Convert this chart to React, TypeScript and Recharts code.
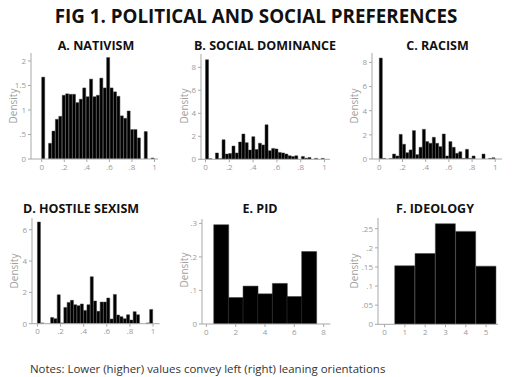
import { Bar, BarChart, XAxis, YAxis } from 'recharts';

// densities, one value per histogram bin
const NATIVISM = [
  1.67, 0, 0.32, 0.57, 0.81, 0.87, 1.3, 1.33, 1.32, 1.32, 1.15, 1.22, 1.45, 1.27, 1.63, 1.27, 1.3,
  1.65, 1.45, 2.07, 1.45, 1.37, 1.28, 0.88, 0.83, 0.98, 0.6, 0.6, 0.43, 0, 0.56, 0, 0.02,
];
const SOCIAL_DOMINANCE = [
  8.66, 0.05, 0, 0.55, 0.05, 1.7, 0.45, 0.5, 1.15, 0.55, 1.5, 2.2, 1.45, 0.8, 1.97, 0.85, 1.4, 1.25,
  3.0, 0.75, 0.95, 0.9, 0.6, 0.55, 0.45, 0.3, 0.25, 0.3, 0, 0.25, 0.1, 0.15, 0, 0.08, 0, 0.08,
];
const RACISM = [
  8.36, 0.05, 0, 0.03, 0.41, 0.25, 2.04, 1.22, 0.52, 0.75, 2.35, 0.36, 0.97, 2.46, 1.44, 1.3, 1.8,
  1.3, 1.02, 2.07, 0.25, 1.44, 0.97, 0.47, 0.6, 0.05, 0.8, 0.05, 0.25, 0, 0, 0.41, 0, 0.05, 0.1,
];
const HOSTILE_SEXISM = [
  6.49, 0.05, 0, 0, 0.4, 0.32, 1.85, 0.05, 1.04, 1.36, 1.49, 1.21, 1.15, 1.26, 0.85, 1.21, 3.0, 1.45,
  0.79, 1.38, 1.38, 1.64, 0.3, 1.87, 0.55, 0.45, 0.32, 0.57, 0.23, 0.77, 0.57, 0, 0, 0.05, 0.91,
];
const PID = [0.296, 0.079, 0.113, 0.09, 0.121, 0.082, 0.216];
const IDEOLOGY = [0.153, 0.185, 0.263, 0.243, 0.152];

const UNIT_TICKS = [0, 0.2, 0.4, 0.6, 0.8, 1];
const PID_X_TICKS = [0, 2, 4, 6, 8];
const IDEOLOGY_X_TICKS = [0, 1, 2, 3, 4, 5];
const NATIVISM_Y_TICKS = [0, 0.5, 1, 1.5, 2];
const WIDE_Y_TICKS = [0, 2, 4, 6, 8];
const SEXISM_Y_TICKS = [0, 2, 4, 6];
const PID_Y_TICKS = [0, 0.1, 0.2, 0.3];
const IDEOLOGY_Y_TICKS = [0, 0.05, 0.1, 0.15, 0.2, 0.25];

const Y_AXIS_W = 24;
const X_AXIS_H = 16;
const TOP_PAD = 6;
const AXIS_GREY = '#a8a8a8';
const FONT = '"Open Sans", "DejaVu Sans", sans-serif';

interface PanelSpec {
  title: string;
  values: number[];
  binStart: number;
  binWidth: number;
  xTicks: number[];
  yTicks: number[];
  xDomain: [number, number];
  yMax: number;
  axisX: number;
  top: number;
  right: number;
  bottom: number;
  titleX: number;
  titleY: number;
  labelX: number;
  labelY: number;
}

const PANELS: PanelSpec[] = [
  {
    title: 'A. NATIVISM', values: NATIVISM, binStart: 0, binWidth: 1 / NATIVISM.length,
    xTicks: UNIT_TICKS, yTicks: NATIVISM_Y_TICKS, xDomain: [-0.095, 1.031], yMax: 2.163,
    axisX: 31, top: 53, right: 158, bottom: 159, titleX: 96, titleY: 45, labelX: 13, labelY: 106,
  },
  {
    title: 'B. SOCIAL DOMINANCE', values: SOCIAL_DOMINANCE, binStart: 0,
    binWidth: 1 / SOCIAL_DOMINANCE.length, xTicks: UNIT_TICKS, yTicks: WIDE_Y_TICKS,
    xDomain: [-0.038, 1.05], yMax: 9.16,
    axisX: 200.5, top: 54, right: 330, bottom: 159.3, titleX: 265, titleY: 45, labelX: 184, labelY: 106,
  },
  {
    title: 'C. RACISM', values: RACISM, binStart: 0, binWidth: 1 / RACISM.length,
    xTicks: UNIT_TICKS, yTicks: WIDE_Y_TICKS, xDomain: [-0.063, 1.058], yMax: 8.78,
    axisX: 371.7, top: 53.3, right: 501.7, bottom: 159.3, titleX: 437.5, titleY: 45, labelX: 353.5, labelY: 106,
  },
  {
    title: 'D. HOSTILE SEXISM', values: HOSTILE_SEXISM, binStart: 0,
    binWidth: 1 / HOSTILE_SEXISM.length, xTicks: UNIT_TICKS, yTicks: SEXISM_Y_TICKS,
    xDomain: [-0.047, 1.058], yMax: 6.75,
    axisX: 32.3, top: 218.3, right: 160, bottom: 324, titleX: 81, titleY: 208, labelX: 13.5, labelY: 271,
  },
  {
    title: 'E. PID', values: PID, binStart: 0.5, binWidth: 1, xTicks: PID_X_TICKS, yTicks: PID_Y_TICKS,
    xDomain: [-0.3, 8.46], yMax: 0.313,
    axisX: 202.3, top: 219, right: 330.7, bottom: 324, titleX: 260, titleY: 208, labelX: 184, labelY: 270,
  },
  {
    title: 'F. IDEOLOGY', values: IDEOLOGY, binStart: 0.5, binWidth: 1, xTicks: IDEOLOGY_X_TICKS,
    yTicks: IDEOLOGY_Y_TICKS, xDomain: [-0.325, 5.6], yMax: 0.278,
    axisX: 377.7, top: 217.7, right: 498, bottom: 324, titleX: 435, titleY: 208, labelX: 353.5, labelY: 271,
  },
];

// Stata style: drop the leading zero (".5", ".25")
const formatTick = (v: number) => (v === 0 ? '0' : String(v).replace(/^0\./, '.'));

function Panel({ spec }: { spec: PanelSpec }) {
  const data = spec.values.map((density, i) => ({
    bin: i,
    mid: spec.binStart + spec.binWidth * (i + 0.5),
    density,
  }));
  const left = spec.axisX - Y_AXIS_W;
  const width = spec.right - left;
  const height = spec.bottom - spec.top + X_AXIS_H + TOP_PAD;
  const plotW = spec.right - spec.axisX;
  const [lo, hi] = spec.xDomain;
  const pxPerUnit = plotW / (hi - lo);
  const binEnd = spec.binStart + spec.binWidth * spec.values.length;
  const padLeft = (spec.binStart - lo) * pxPerUnit;
  const padRight = (hi - binEnd) * pxPerUnit;
  const axisStyle = { fontSize: 8, fill: '#9a9a9a' };

  return (
    <>
      <div
        style={{
          position: 'absolute', left: spec.titleX, top: spec.titleY, transform: 'translate(-50%, -50%)',
          fontWeight: 700, fontSize: 12.5, whiteSpace: 'nowrap', color: '#111',
        }}
      >
        {spec.title}
      </div>
      <div
        style={{
          position: 'absolute', left: spec.labelX, top: spec.labelY,
          transform: 'translate(-50%, -50%) rotate(-90deg)', fontSize: 10, color: '#a0a0a0',
          whiteSpace: 'nowrap',
        }}
      >
        Density
      </div>
      <div style={{ position: 'absolute', left, top: spec.top - TOP_PAD }}>
        <BarChart
          width={width}
          height={height}
          data={data}
          margin={{ top: TOP_PAD, right: 0, bottom: 0, left: 0 }}
          barCategoryGap={0}
          barGap={0}
        >
          <XAxis
            xAxisId="num"
            dataKey="mid"
            type="number"
            domain={spec.xDomain}
            allowDataOverflow
            ticks={spec.xTicks}
            tickFormatter={formatTick}
            height={X_AXIS_H}
            tick={axisStyle}
            tickSize={3}
            tickMargin={2}
            stroke={AXIS_GREY}
          />
          <XAxis
            xAxisId="bins"
            dataKey="bin"
            type="category"
            hide
            height={0}
            padding={{ left: padLeft, right: padRight }}
          />
          <YAxis
            type="number"
            domain={[0, spec.yMax]}
            allowDataOverflow
            ticks={spec.yTicks}
            tickFormatter={formatTick}
            width={Y_AXIS_W}
            tick={axisStyle}
            tickSize={3}
            tickMargin={2}
            stroke={AXIS_GREY}
          />
          <Bar
            xAxisId="bins"
            dataKey="density"
            fill="#000"
            stroke="#3c3c3c"
            strokeWidth={0.5}
            isAnimationActive={false}
          />
        </BarChart>
      </div>
    </>
  );
}

export default function App() {
  return (
    <div
      style={{
        position: 'absolute', left: 0, top: 0, width: 512, height: 377, background: '#fff',
        fontFamily: FONT, overflow: 'hidden',
      }}
    >
      <div
        style={{
          position: 'absolute', left: 256, top: 15.5, transform: 'translate(-50%, -50%)',
          fontWeight: 700, fontSize: 18.8, whiteSpace: 'nowrap', color: '#111',
        }}
      >
        FIG 1. POLITICAL AND SOCIAL PREFERENCES
      </div>
      {PANELS.map((spec) => (
        <Panel key={spec.title} spec={spec} />
      ))}
      <div
        style={{
          position: 'absolute', left: 30, top: 368, transform: 'translateY(-50%)', fontSize: 11.45,
          color: '#333', whiteSpace: 'nowrap',
        }}
      >
        Notes: Lower (higher) values convey left (right) leaning orientations
      </div>
    </div>
  );
}
